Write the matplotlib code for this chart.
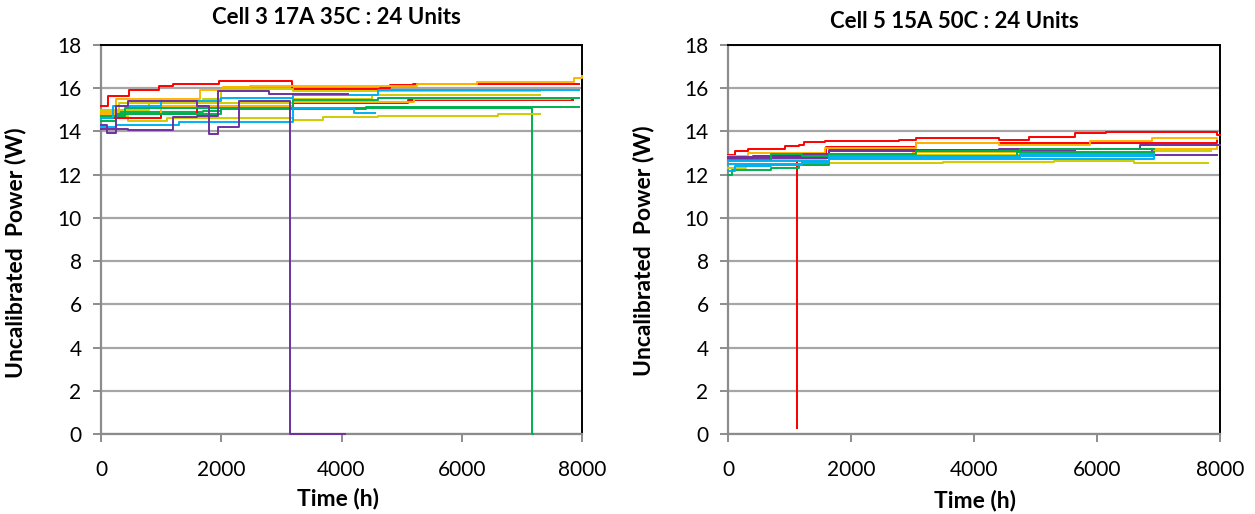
import matplotlib
matplotlib.use("Agg")
import matplotlib.pyplot as plt

# ---------------- data: left panel (Cell 3 17A 35C) ----------------
# time (h) breakpoints and step values (W)
L_red1_t = [0, 110, 470, 970, 1200, 1970, 3170, 4640, 4810, 5190, 7950]
L_red1_p = [15.2, 15.65, 15.9, 16.1, 16.2, 16.35, 15.95, 16.03, 16.14, 16.2, 16.2]
L_red2_t = [0, 1000, 1600, 3200, 5100, 7850]
L_red2_p = [14.6, 14.8, 15.2, 15.3, 15.45, 15.45]
L_org1_t = [0, 250, 1640, 2030, 2470, 5250, 6250, 7860, 8000]
L_org1_p = [14.9, 15.5, 15.9, 16.05, 16.1, 16.2, 16.3, 16.45, 16.55]
L_org2_t = [0, 1000, 3200, 5200, 7800]
L_org2_p = [14.8, 15.2, 15.35, 15.5, 15.5]
L_yel1_t = [0, 450, 1100, 3200, 3700, 4600, 6600, 7300]
L_yel1_p = [14.7, 14.5, 14.6, 14.55, 14.65, 14.72, 14.8, 14.8]
L_yel2_t = [0, 300, 1700, 2000, 3200, 7300]
L_yel2_p = [14.9, 15.3, 15.5, 15.95, 15.85, 15.85]
L_yel3_t = [0, 800, 3200, 4500, 7300]
L_yel3_p = [15.0, 15.3, 15.5, 15.7, 15.7]
L_grn1_t = [0, 300, 1700, 2000, 7170, 7180]
L_grn1_p = [14.6, 14.9, 14.95, 15.1, 0.0, 0.0]
L_grn2_t = [0, 400, 3200, 4600, 7950]
L_grn2_p = [14.7, 15.1, 15.45, 15.55, 15.55]
L_grn3_t = [0, 250, 2000, 4400, 7950]
L_grn3_p = [14.5, 14.8, 15.05, 15.15, 15.15]
L_blu1_t = [0, 200, 1000, 2000, 3200, 4600, 7950]
L_blu1_p = [14.6, 15.2, 15.4, 15.55, 15.7, 15.9, 15.9]
L_blu2_t = [0, 250, 1300, 3200, 4200, 4560]
L_blu2_p = [14.2, 14.3, 14.45, 15.1, 14.85, 14.85]
L_pur1_t = [0, 100, 250, 450, 1600, 1800, 1950, 2300, 3150, 4060]
L_pur1_p = [14.3, 13.95, 15.2, 15.4, 15.2, 13.9, 14.2, 15.4, 0.0, 0.0]
L_pur2_t = [0, 450, 1200, 1600, 1950, 2800, 4100]
L_pur2_p = [14.1, 14.05, 14.65, 14.7, 15.85, 15.75, 15.75]

# ---------------- data: right panel (Cell 5 15A 50C) ----------------
R_red1_t = [0, 110, 330, 930, 1150, 1230, 1580, 2780, 3050, 4410, 4900, 5640, 6150, 7950, 8000]
R_red1_p = [12.92, 13.08, 13.18, 13.31, 13.38, 13.49, 13.54, 13.62, 13.69, 13.62, 13.74, 13.92, 13.97, 13.85, 13.85]
R_red2_t = [0, 400, 1125, 1128, 1600, 3050, 7950]
R_red2_p = [12.75, 12.85, 0.28, 12.85, 13.3, 13.45, 13.55]
R_org1_t = [0, 330, 1580, 3050, 4410, 5880, 6900, 7950]
R_org1_p = [12.85, 13.0, 13.25, 13.46, 13.38, 13.54, 13.68, 13.65]
R_org2_t = [0, 1200, 3000, 5500, 7950]
R_org2_p = [12.7, 12.85, 13.05, 13.2, 13.3]
R_yel1_t = [0, 300, 1600, 3500, 5300, 6600, 7800]
R_yel1_p = [12.3, 12.45, 12.55, 12.6, 12.65, 12.55, 12.55]
R_yel2_t = [0, 1600, 5000, 6900, 7850]
R_yel2_p = [12.7, 12.9, 13.0, 13.1, 13.1]
R_grn1_t = [0, 60, 700, 1150, 1640, 3050, 4740, 6920]
R_grn1_p = [12.0, 12.2, 12.3, 12.45, 12.95, 13.1, 13.2, 13.2]
R_grn2_t = [0, 700, 1200, 4700, 6920]
R_grn2_p = [12.7, 12.95, 12.85, 13.05, 13.05]
R_pur1_t = [0, 1200, 1640, 5640, 6700, 7950, 8000]
R_pur1_p = [12.8, 12.95, 13.1, 13.2, 13.35, 13.38, 13.38]
R_pur2_t = [0, 1640, 4400, 6900, 7950]
R_pur2_p = [12.75, 13.15, 13.2, 12.9, 12.9]
R_blu1_t = [0, 110, 700, 1200, 1640, 4740, 6920]
R_blu1_p = [12.15, 12.38, 12.45, 12.54, 12.77, 12.88, 12.88]
R_blu2_t = [0, 1200, 1640, 4740, 6920]
R_blu2_p = [12.5, 12.6, 12.85, 12.95, 12.95]
R_blu3_t = [0, 1640, 6920]
R_blu3_p = [12.65, 12.72, 12.8]

titles = ["Cell 3 17A 35C : 24 Units", "Cell 5 15A 50C : 24 Units"]
xlabel = "Time (h)"
ylabel = "Uncalibrated  Power (W)"
xticks = [0, 2000, 4000, 6000, 8000]
yticks = [0, 2, 4, 6, 8, 10, 12, 14, 16, 18]

RED, ORG, YEL, GRN, BLU, PUR = "#FF0000", "#FFB400", "#CFCB00", "#00B050", "#00B0F0", "#7030A0"

left_series = [
    (L_grn1_t, L_grn1_p, GRN), (L_yel1_t, L_yel1_p, YEL), (L_red2_t, L_red2_p, RED),
    (L_org2_t, L_org2_p, ORG), (L_grn3_t, L_grn3_p, GRN), (L_yel3_t, L_yel3_p, YEL),
    (L_grn2_t, L_grn2_p, GRN), (L_blu2_t, L_blu2_p, BLU), (L_red1_t, L_red1_p, RED),
    (L_yel2_t, L_yel2_p, YEL), (L_org1_t, L_org1_p, ORG), (L_blu1_t, L_blu1_p, BLU),
    (L_pur2_t, L_pur2_p, PUR), (L_pur1_t, L_pur1_p, PUR),
]
right_series = [
    (R_yel1_t, R_yel1_p, YEL), (R_red2_t, R_red2_p, RED), (R_org2_t, R_org2_p, ORG),
    (R_red1_t, R_red1_p, RED), (R_org1_t, R_org1_p, ORG), (R_yel2_t, R_yel2_p, YEL),
    (R_pur1_t, R_pur1_p, PUR), (R_pur2_t, R_pur2_p, PUR), (R_grn2_t, R_grn2_p, GRN),
    (R_grn1_t, R_grn1_p, GRN), (R_blu3_t, R_blu3_p, BLU), (R_blu2_t, R_blu2_p, BLU),
    (R_blu1_t, R_blu1_p, BLU),
]

plt.rcParams['font.family'] = ['Lato', 'DejaVu Sans']

W, H = 1255, 514
fig = plt.figure(figsize=(W / 100, H / 100), dpi=100)

def px_axes(x0, x1, y_top, y_bot):
    return fig.add_axes([x0 / W, 1 - y_bot / H, (x1 - x0) / W, (y_bot - y_top) / H])

axL = px_axes(101, 582, 45, 434)
axR = px_axes(728, 1220, 45, 434)

GRAY = "#8C8C8C"
label_pos = {
    "L": dict(y=(-0.155, 0.465), x=(0.493, -0.139)),
    "R": dict(y=(-0.150, 0.47), x=(0.502, -0.144)),
}
for key, ax, series in (("L", axL, left_series), ("R", axR, right_series)):
    for t, p, c in series:
        ax.step(t, p, where="post", color=c, lw=1.4, zorder=3, clip_on=False)
    ax.set_xlim(0, 8000)
    ax.set_ylim(0, 18)
    ax.set_xticks(xticks)
    ax.set_yticks(yticks)
    ax.set_axisbelow(True)
    ax.yaxis.grid(True, color="#A6A6A6", lw=1.6)
    ax.spines["left"].set_color(GRAY)
    ax.spines["bottom"].set_color(GRAY)
    ax.spines["left"].set_linewidth(1.6)
    ax.spines["bottom"].set_linewidth(1.6)
    ax.spines["top"].set_color("black")
    ax.spines["right"].set_color("black")
    ax.spines["top"].set_linewidth(1.4)
    ax.spines["right"].set_linewidth(1.4)
    for s in ax.spines.values():
        s.set_zorder(2.5)
    ax.tick_params(axis="both", direction="out", length=6, width=1.4, color=GRAY,
                   labelsize=15, labelcolor="black")
    ax.tick_params(axis="y", pad=8)
    ax.tick_params(axis="x", pad=13)
    ax.set_xlabel(xlabel, fontsize=16.5, fontweight="bold")
    ax.set_ylabel(ylabel, fontsize=16.5, fontweight="bold")
    ax.yaxis.set_label_coords(*label_pos[key]["y"])
    ax.xaxis.set_label_coords(*label_pos[key]["x"])

fig.text(336 / W, 1 - 18 / H, titles[0], ha="center", va="center", fontsize=16, fontweight="bold")
fig.text(954 / W, 1 - 22 / H, titles[1], ha="center", va="center", fontsize=16, fontweight="bold")

fig.savefig("out.png", dpi=100)
